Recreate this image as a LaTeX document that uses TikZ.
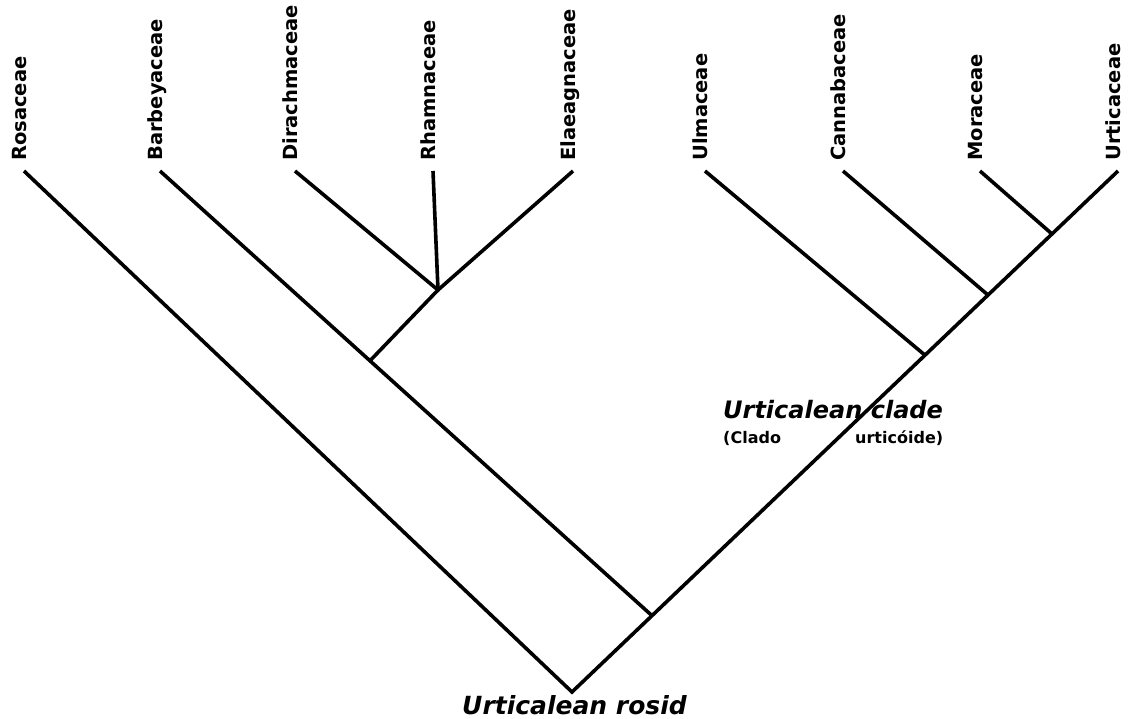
\documentclass[tikz,border=0pt]{standalone}
\usepackage{fontspec}
\setsansfont{DejaVu Sans}
\usetikzlibrary{calc}
\definecolor{ink}{HTML}{000000}

\begin{document}
\begin{tikzpicture}[
  x=1pt, y=-1pt,
  font=\sffamily\bfseries,
  taxon/.style={
    rotate=90,
    anchor=mid west,
    inner xsep=10pt,
    inner ysep=0pt,
    text=ink,
    font=\sffamily\bfseries\fontsize{19.5}{20}\selectfont
  },
  branch/.style={line width=3.6pt, draw=ink, line join=miter},
  cladename/.style={anchor=base west, inner sep=0pt, text=ink,
    font=\sffamily\bfseries\itshape\fontsize{24}{26}\selectfont},
  note/.style={anchor=base west, inner sep=0pt, text=ink,
    font=\sffamily\bfseries\fontsize{16}{18}\selectfont}
]
  \useasboundingbox (0,0) rectangle (1128,719);

  % Leaf labels
  \node[taxon] (ros) at (24,171) {Rosaceae};
  \node[taxon] (bar) at (160,171) {Barbeyaceae};
  \node[taxon] (dir) at (295,171) {Dirachmaceae};
  \node[taxon] (rha) at (433,171) {Rhamnaceae};
  \node[taxon] (ela) at (573,171) {Elaeagnaceae};
  \node[taxon] (ulm) at (705,171) {Ulmaceae};
  \node[taxon] (can) at (843,171) {Cannabaceae};
  \node[taxon] (mor) at (980,171) {Moraceae};
  \node[taxon] (urt) at (1118,171) {Urticaceae};

  % Inner nodes
  \coordinate (root) at (572,692);
  \coordinate (n1) at ($(root)!0.1465!(urt.mid west)$);
  \coordinate (n2) at ($(bar.mid west)!0.4268!(n1)$);
  \coordinate (n3) at (438,290);
  \coordinate (n4) at ($(root)!0.6465!(urt.mid west)$);
  \coordinate (n5) at ($(root)!0.7619!(urt.mid west)$);
  \coordinate (n6) at ($(root)!0.8791!(urt.mid west)$);

  % Branches
  \draw[branch] (ros.mid west) -- (root) -- (urt.mid west);
  \draw[branch] (bar.mid west) -- (n1);
  \draw[branch] (n2) -- (n3);
  \draw[branch] (dir.mid west) -- (n3) -- (ela.mid west);
  \draw[branch] (rha.mid west) -- (n3);
  \draw[branch] (ulm.mid west) -- (n4);
  \draw[branch] (can.mid west) -- (n5);
  \draw[branch] (mor.mid west) -- (n6);

  % Clade names
  \node[cladename] (uclade) at (723,418) {Urticalean clade};
  \node[note] (clado) at (723,443) {(Clado};
  \node[note] (urtic) at (855,443) {urticóide)};
  \node[cladename, font=\sffamily\bfseries\itshape\fontsize{25}{27}\selectfont] (urosid) at (462,714) {Urticalean rosid};
\end{tikzpicture}
\end{document}
